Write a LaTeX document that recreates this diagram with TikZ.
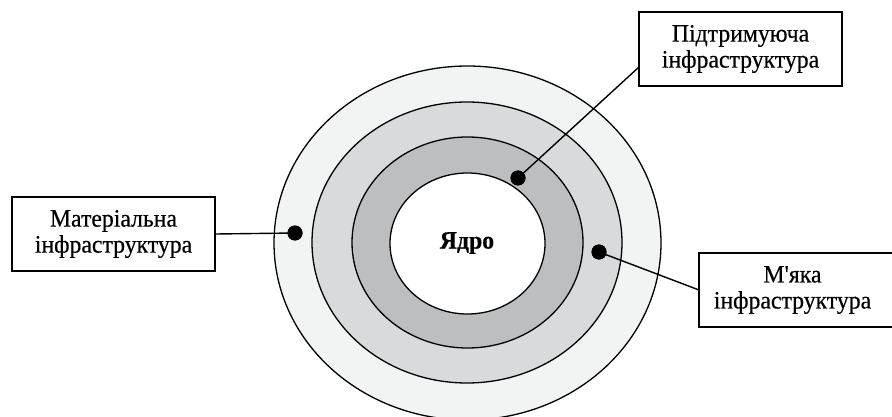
\documentclass[tikz,border=0pt]{standalone}
\usepackage{fontspec}
\setmainfont{Liberation Serif}[Ligatures=TeXOff,FakeStretch=0.95,FakeBold=0.4]
\definecolor{ringA}{HTML}{F2F3F3}
\definecolor{ringB}{HTML}{D9DADC}
\definecolor{ringC}{HTML}{BDBEC0}
\begin{document}
\begin{tikzpicture}[x=1pt,y=-1pt,
  ring/.style={draw=black,line width=1.3pt},
  labelbox/.style={draw=black,line width=1.6pt,fill=white,minimum width=203pt,minimum height=74pt,inner sep=0pt,align=center,font=\fontsize{25}{26}\selectfont},
  dotmark/.style={circle,fill=black,minimum size=15pt,inner sep=0pt},
  conn/.style={draw=black,line width=1.4pt}]
\useasboundingbox (0,0) rectangle (892,417);
\begin{scope}
\clip (0,0) rectangle (892,417);
\draw[ring,fill=ringA] (467.5,243) ellipse [x radius=193.5,y radius=177];
\draw[ring,fill=ringB] (467,242.5) ellipse [x radius=155,y radius=140.5];
\draw[ring,fill=ringC] (467.5,242.5) ellipse [x radius=115.5,y radius=105.5];
\draw[ring,fill=white] (467.5,243.5) ellipse [x radius=77.5,y radius=70.5];
\node[font=\fontsize{25}{26}\selectfont\bfseries] (core) at (467,243) {Ядро};
\node[dotmark] (d1) at (295,233) {};
\node[dotmark] (d2) at (518,178) {};
\node[dotmark] (d3) at (599,252) {};
\node[labelbox] (b1) at (113.5,234) {Матеріальна\\інфраструктура};
\node[labelbox] (b2) at (740.5,49) {Підтримуюча\\інфраструктура};
\node[labelbox] (b3) at (800.5,290) {\hspace*{-16pt}М'яка\\\hspace*{-16pt}інфраструктура};
\coordinate (c2) at (639,67);
\coordinate (c3) at (699,290);
\draw[conn] (b1.east) -- (d1.center);
\draw[conn] (c2) -- (d2.center);
\draw[conn] (d3.center) -- (c3);
\node[dotmark] at (d1) {};
\node[dotmark] at (d2) {};
\node[dotmark] at (d3) {};
\end{scope}
\end{tikzpicture}
\end{document}
